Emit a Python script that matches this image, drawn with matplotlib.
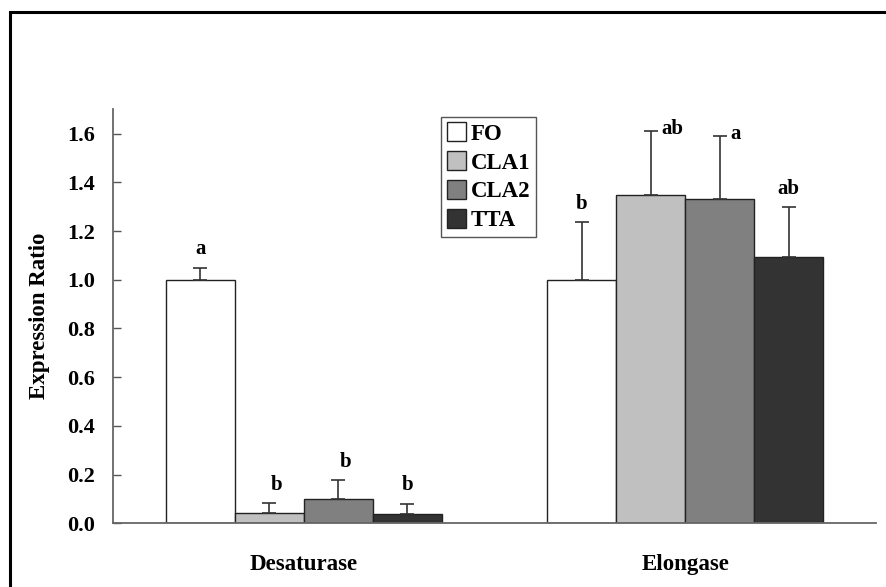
import numpy as np
import matplotlib
matplotlib.use("Agg")
import matplotlib.pyplot as plt
from matplotlib.patches import Rectangle

genes = ["Desaturase", "Elongase"]
diets = ["FO", "CLA1", "CLA2", "TTA"]
colors = ["#ffffff", "#c0c0c0", "#808080", "#333333"]

# mean expression ratio per diet, [Desaturase, Elongase]
means = {
    "FO":   [1.00, 1.00],
    "CLA1": [0.042, 1.350],
    "CLA2": [0.100, 1.330],
    "TTA":  [0.040, 1.095],
}
errs = {
    "FO":   [0.050, 0.237],
    "CLA1": [0.040, 0.260],
    "CLA2": [0.077, 0.260],
    "TTA":  [0.040, 0.203],
}
letters = {
    "FO":   ["a", "b"],
    "CLA1": ["b", "ab"],
    "CLA2": ["b", "a"],
    "TTA":  ["b", "ab"],
}

plt.rcParams["font.family"] = ["Liberation Serif", "DejaVu Serif"]
plt.rcParams["font.weight"] = "bold"

fig = plt.figure(figsize=(8.87, 5.87), dpi=100)
ax = fig.add_axes([0.1274, 0.1085, 0.860, 0.7053])

x = np.arange(len(genes))
w = 0.181
edge = "#222222"

for i, d in enumerate(diets):
    pos = x + (i - 1.5) * w
    ax.bar(pos, means[d], w, color=colors[i], edgecolor=edge, linewidth=1.0,
           label=d, zorder=2)
    low = np.zeros(len(genes))
    ax.errorbar(pos, means[d], yerr=[low, errs[d]], fmt="none",
                ecolor="#333333", elinewidth=1.2, capsize=5, capthick=1.2,
                zorder=3)
    for j in range(len(genes)):
        top = means[d][j] + errs[d][j]
        # labels near the top of the plot sit beside the cap
        if top > 1.5:
            ax.text(pos[j] + 0.028, top + 0.01, letters[d][j], ha="left",
                    va="center", fontsize=15, fontweight="bold")
        else:
            dx = 0.02 if (j == 0 and i in (1, 2)) else 0.0
            ax.text(pos[j] + dx, top + 0.035, letters[d][j], ha="center",
                    va="bottom", fontsize=15, fontweight="bold")

ax.set_xlim(-0.5, 1.5)
ax.set_ylim(0, 1.7)
yt = np.arange(0, 1.61, 0.2)
ax.set_yticks(yt)
ax.set_yticklabels([f"{v:.1f}" for v in yt])
ax.set_xticks(x)
ax.set_xticklabels(genes)
ax.tick_params(axis="y", direction="in", length=6, width=1, labelsize=16,
               pad=13, color="#555555")
ax.tick_params(axis="x", length=0, labelsize=16.5, pad=22)
for lab in ax.get_xticklabels() + ax.get_yticklabels():
    lab.set_fontweight("bold")
ax.set_ylabel("Expression Ratio", fontsize=16.5, fontweight="bold", labelpad=12)

for s in ("top", "right"):
    ax.spines[s].set_visible(False)
for s in ("left", "bottom"):
    ax.spines[s].set_color("#666666")
    ax.spines[s].set_linewidth(1.3)

leg = ax.legend(loc="upper left", bbox_to_anchor=(0.430, 0.982), fontsize=16.5,
                frameon=True, fancybox=False, framealpha=1, edgecolor="#555555",
                handlelength=0.85, handleheight=0.85, handletextpad=0.2,
                labelspacing=0.3, borderpad=0.25, borderaxespad=0)
leg.get_frame().set_linewidth(1.0)
for t in leg.get_texts():
    t.set_fontweight("bold")

# frame: only the top and left edges fall inside the picture
fig.patches.append(Rectangle((10 / 887, -0.05), 1.1, 1.05 - 12 / 587,
                             transform=fig.transFigure, fill=False,
                             edgecolor="black", linewidth=2.2))

fig.savefig("out.png", dpi=100)
